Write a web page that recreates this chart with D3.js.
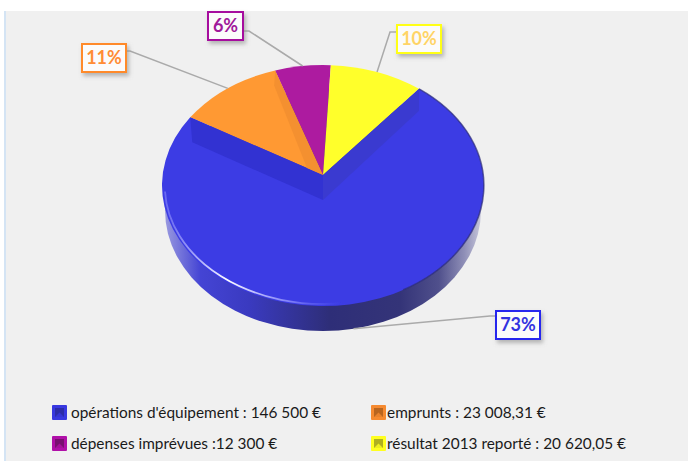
<!DOCTYPE html>
<html>
<head>
<meta charset="utf-8">
<script src="https://cdn.jsdelivr.net/npm/d3@7"></script>
<style>
  html, body { margin: 0; padding: 0; background: #fff; overflow: hidden; }
</style>
</head>
<body>
<script>
const categories = ['opérations', 'emprunts', 'dépenses', 'résultat']
const amounts = [146500, 23008.31, 12300, 20620.05]
const percents = ['73%', '11%', '6%', '10%']
const legendLabels = [
  "opérations d'équipement : 146 500 €",
  'emprunts : 23 008,31 €',
  'dépenses imprévues :12 300 €',
  'résultat 2013 reporté : 20 620,05 €'
]

const sliceColors = ['#3c3ce4', '#ff9933', '#ad1ba0', '#ffff2b']
const labelStrokes = ['#2828ee', '#ff8a2a', '#a6119e', '#ffff19']
const labelTexts = ['#3333e0', '#ff8c35', '#a0189a', '#ffd466']

let width = 688,
    height = 461

let svg = d3.select('body').append('svg')
  .attr('width', width)
  .attr('height', height)
  .style('display', 'block')
  .style('font-family', 'Lato, sans-serif')

// Pie geometry
const cx = 323, cy = 185.5, rx = 161, ry = 120.5
const apexY = 175
const depth = 25
const startAngle = 39.7 * Math.PI / 180

// The pie is seen in perspective, the top face is a projected circle
const persp = -0.0871, perspA = 104.3, perspK = 160.4

let defs = svg.append('defs')

let shadow = defs.append('filter').attr('id', 'labelShadow')
  .attr('x', '-30%').attr('y', '-30%').attr('width', '170%').attr('height', '170%')
shadow.append('feDropShadow')
  .attr('dx', 2).attr('dy', 3)
  .attr('stdDeviation', 2)
  .attr('flood-color', '#8a8a8a')
  .attr('flood-opacity', 0.6)

let softEdge = defs.append('filter').attr('id', 'softEdge')
  .attr('x', '-10%').attr('y', '-10%').attr('width', '120%').attr('height', '120%')
softEdge.append('feGaussianBlur').attr('stdDeviation', 0.7)

let sideGradient = defs.append('linearGradient').attr('id', 'sideGradient')
  .attr('gradientUnits', 'userSpaceOnUse')
  .attr('x1', cx - rx).attr('x2', cx + rx).attr('y1', 0).attr('y2', 0)
sideGradient.selectAll('stop')
  .data([[0, '#a0a0e0'], [0.12, '#4444d4'], [0.27, '#3a3ac0'], [0.52, '#2e2e78'], [0.74, '#343478'], [0.86, '#50508c'], [0.94, '#9090b8'], [1, '#d0d0e0']])
  .join('stop')
  .attr('offset', d => d[0])
  .attr('stop-color', d => d[1])

let rimGradient = defs.append('linearGradient').attr('id', 'rimGradient')
  .attr('gradientUnits', 'userSpaceOnUse')
  .attr('x1', cx - rx).attr('x2', cx + 20).attr('y1', 0).attr('y2', 0)
rimGradient.selectAll('stop')
  .data([[0, '#8c8cff', 0.5], [0.36, '#ffffff', 1], [0.7, '#a0a0ff', 0.7], [1, '#6060ff', 0]])
  .join('stop')
  .attr('offset', d => d[0])
  .attr('stop-color', d => d[1])
  .attr('stop-opacity', d => d[2])

// Background panel
svg.append('rect')
  .attr('x', 4).attr('y', 11)
  .attr('width', width - 4).attr('height', height - 11)
  .attr('fill', '#f0f0f0')
svg.append('rect')
  .attr('x', 4).attr('y', 11)
  .attr('width', 2).attr('height', height - 11)
  .attr('fill', '#d4e4f4')

// Project a pie angle on the rim
let rimX = a => cx + perspK * Math.sin(a) / (1 - persp * Math.cos(a))
let rimY = a => (apexY - perspA * Math.cos(a)) / (1 - persp * Math.cos(a))

let pie = d3.pie().sort(null).startAngle(startAngle).endAngle(startAngle + 2 * Math.PI)
let arcs = pie(amounts)

let slicePath = d => {
  let p = d3.path()
  p.moveTo(cx, apexY)
  p.lineTo(rimX(d.startAngle), rimY(d.startAngle))
  let large = d.endAngle - d.startAngle > Math.PI ? 1 : 0
  return p.toString() + `A${rx},${ry} 0 ${large} 1 ${rimX(d.endAngle)},${rimY(d.endAngle)}Z`
}

// Outer wall of the big slice, only its lower part shows under the top face
svg.append('ellipse')
  .attr('cx', cx).attr('cy', cy + depth)
  .attr('rx', rx - 3).attr('ry', ry)
  .attr('fill', 'url(#sideGradient)')

let pieGroup = svg.append('g')

pieGroup.selectAll('.slice')
  .data(arcs)
  .join('path')
  .attr('class', 'slice')
  .attr('d', slicePath)
  .attr('fill', (d, i) => sliceColors[i])

// Inner walls of the big slice, seen through the gap of the other slices
let blue = arcs[0]
let wallRight = [rimX(blue.startAngle), rimY(blue.startAngle)]
let wallLeft = [rimX(blue.endAngle), rimY(blue.endAngle)]
pieGroup.append('path')
  .attr('d', `M${cx},${apexY}L${wallRight}L${wallRight[0]},${wallRight[1] + depth - 3}L${cx},${apexY + depth}Z`)
  .attr('fill', '#3a3ad0')
pieGroup.append('path')
  .attr('d', `M${cx},${apexY}L${wallLeft}L${wallLeft[0] + 2},${wallLeft[1] + depth}L${cx},${apexY + depth}Z`)
  .attr('fill', '#3232d2')

// Inner wall of the orange slice
let orange = arcs[1]
let orangeEnd = [rimX(orange.endAngle), rimY(orange.endAngle)]
pieGroup.append('path')
  .attr('d', `M${cx},${apexY}L${orangeEnd}L${orangeEnd[0] - 1},${orangeEnd[1] + 15}L${cx - 16},${apexY - 7}Z`)
  .attr('fill', '#f49030')

// Light on the front rim, dark on the right edge
svg.append('path')
  .attr('d', `M${cx - rx + 3},${cy + 6}A${rx - 3},${ry - 3} 0 0 0 ${cx + 20},${cy + ry - 3}`)
  .attr('fill', 'none')
  .attr('stroke', 'url(#rimGradient)')
  .attr('stroke-width', 1.8)
  .attr('filter', 'url(#softEdge)')
svg.append('path')
  .attr('d', `M${wallRight}A${rx},${ry} 0 0 1 ${cx + 80},${cy + ry * 0.867}`)
  .attr('fill', 'none')
  .attr('stroke', '#2e2e78')
  .attr('stroke-opacity', 0.7)
  .attr('stroke-width', 1.5)
  .attr('filter', 'url(#softEdge)')

// Percentage labels. Box left/top, and the point where the leader enters the box
const boxW = [44, 44, 35, 44]
const boxH = [28, 28, 28, 28]
const boxX = [496, 82, 208, 397]
const boxY = [311, 44, 12, 25]
const elbowX = [490, 130, 249, 390]
const elbowY = [316, 51, 31, 32]
const leaderEnd = [496, 126, 243, 397]

let labels = svg.append('g')

arcs.forEach((d, i) => {
  let mid = (d.startAngle + d.endAngle) / 2
  let ax = rimX(mid)
  let ay = rimY(mid) + (Math.cos(mid) < 0 ? depth : 0)
  labels.append('path')
    .attr('d', `M${ax},${ay}L${elbowX[i]},${elbowY[i]}L${leaderEnd[i]},${elbowY[i]}`)
    .attr('fill', 'none')
    .attr('stroke', '#aaaaaa')
    .attr('stroke-width', 1.5)
  labels.append('rect')
    .attr('x', boxX[i]).attr('y', boxY[i])
    .attr('width', boxW[i]).attr('height', boxH[i])
    .attr('fill', '#fbfbfb')
    .attr('stroke', labelStrokes[i])
    .attr('stroke-width', 2)
    .attr('filter', 'url(#labelShadow)')
  labels.append('text')
    .attr('x', boxX[i] + boxW[i] / 2)
    .attr('y', boxY[i] + boxH[i] / 2 + 6)
    .attr('text-anchor', 'middle')
    .attr('font-size', 18)
    .attr('font-weight', 700)
    .attr('fill', labelTexts[i])
    .text(percents[i])
})

// Legend
const legendX = [52, 371, 52, 371]
const legendY = [405, 405, 436, 436]
const swatch = 15
const swatchDark = ['#2c2ca8', '#b8651f', '#781070', '#b0b020']
const swatchBase = ['#3838e0', '#f58a30', '#b010a8', '#ffff20']

let legend = svg.append('g').attr('class', 'legend')
let items = legend.selectAll('g')
  .data(categories)
  .join('g')
  .attr('transform', (d, i) => `translate(${legendX[i]},${legendY[i]})`)

items.append('rect')
  .attr('width', swatch).attr('height', swatch)
  .attr('rx', 1)
  .attr('fill', (d, i) => swatchBase[i])
items.append('rect')
  .attr('x', 3).attr('y', 3)
  .attr('width', swatch - 6).attr('height', swatch - 6)
  .attr('fill', (d, i) => swatchDark[i])
items.append('path')
  .attr('d', `M3,${swatch - 3}L${swatch / 2},${swatch / 2}L${swatch - 3},${swatch - 3}Z`)
  .attr('fill', (d, i) => swatchBase[i])
  .attr('opacity', 0.8)

items.append('text')
  .attr('x', (d, i) => i % 2 === 0 ? 19 : 16)
  .attr('y', 13)
  .attr('font-size', 15.4)
  .attr('fill', '#1a1a1a')
  .text((d, i) => legendLabels[i])
</script>
</body>
</html>
